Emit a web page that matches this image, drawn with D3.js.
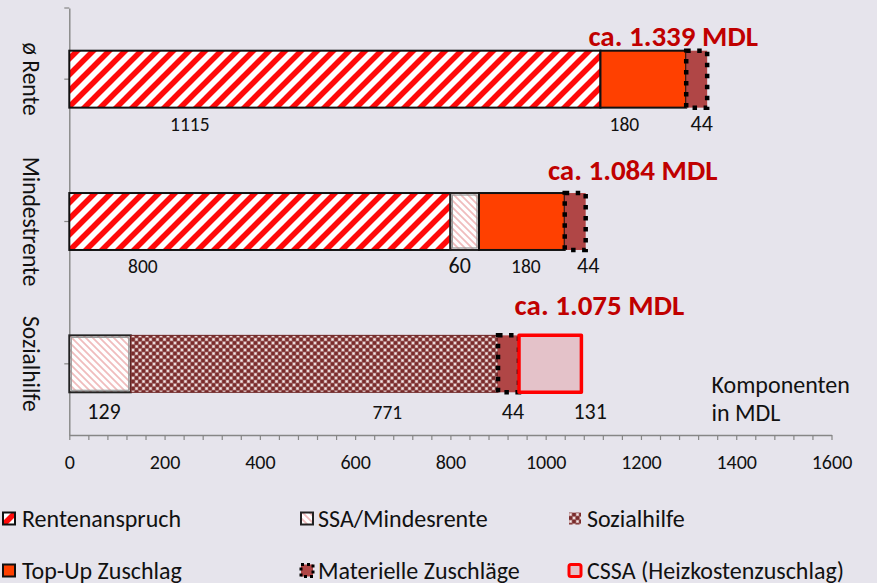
<!DOCTYPE html>
<html>
<head>
<meta charset="utf-8">
<script src="https://cdn.jsdelivr.net/npm/d3@7"></script>
<style>
  html, body { margin: 0; padding: 0; background: #E6E4EC; }
  svg { display: block; font-family: Carlito, Lato, "Open Sans", sans-serif; }
</style>
</head>
<body>
<svg id="chart" width="877" height="583"></svg>
<script>
// ---- Data -------------------------------------------------------------
const categories = ["ø Rente", "Mindestrente", "Sozialhilfe"];
const seriesNames = ["Rentenanspruch", "SSA/Mindesrente", "Sozialhilfe",
                     "Top-Up Zuschlag", "Materielle Zuschläge", "CSSA (Heizkostenzuschlag)"];
const rentenanspruch       = [1115, 800, 0];
const ssaMindesrente       = [0, 60, 129];
const sozialhilfe          = [0, 0, 771];
const topUpZuschlag        = [180, 180, 0];
const materielleZuschlaege = [44, 44, 44];
const cssaHeizkosten       = [0, 0, 131];
const xTickValues = [0, 200, 400, 600, 800, 1000, 1200, 1400, 1600];
const axisNote = ["Komponenten", "in MDL"];

// ---- Layout -------------------------------------------------------------
const W = 877, H = 583;
const plot = { left: 69.3, right: 831.5, top: 8, bottom: 435 };
// horizontal nudges (px) of the value labels, per series and category
const labelShift = [[-145, -117, 0], [0, -5, 4], [0, 0, 73], [-19, 4, 0], [5, 13, 4.5], [0, 0, 40]];
const labelSize  = [19.5, 22, 19.5, 19.5, 22, 22];
const labelDrop  = [23, 23, 27];
const totalShift = [-34, 47, 18];
const totalRise  = [-5, -13, -20];
const legendCols = [{ m: 3, t: 22 }, { m: 301, t: 318 }, { m: 569, t: 587 }];
const legendRows = [518.5, 570.5];

const valuesBySeries = [rentenanspruch, ssaMindesrente, sozialhilfe,
                        topUpZuschlag, materielleZuschlaege, cssaHeizkosten];

const table = categories.map((c, i) => {
  const row = { category: c };
  seriesNames.forEach((s, k) => row[s] = valuesBySeries[k][i]);
  return row;
});
const stacked = d3.stack().keys(seriesNames)(table);

const svg = d3.select("#chart");
svg.append("rect").attr("width", W).attr("height", H).attr("fill", "#E6E4EC");

// ---- Fill patterns --------------------------------------------------------
const defs = svg.append("defs");

const pRente = defs.append("pattern").attr("id", "pRente")
  .attr("patternUnits", "userSpaceOnUse").attr("width", 16).attr("height", 16);
pRente.append("rect").attr("width", 16).attr("height", 16).attr("fill", "#ffffff");
pRente.append("path").attr("d", "M-4,4L4,-4M0,16L16,0M12,20L20,12")
  .attr("stroke", "#ff0a0a").attr("stroke-width", 5.6);

const pSsa = defs.append("pattern").attr("id", "pSsa")
  .attr("patternUnits", "userSpaceOnUse").attr("width", 7).attr("height", 7);
pSsa.append("rect").attr("width", 7).attr("height", 7).attr("fill", "#ffffff");
pSsa.append("path").attr("d", "M0,0L7,7M-1,6L1,8M6,-1L8,1")
  .attr("stroke", "#f0bcbd").attr("stroke-width", 1.8);

const pSoz = defs.append("pattern").attr("id", "pSoz")
  .attr("patternUnits", "userSpaceOnUse").attr("width", 7).attr("height", 7);
pSoz.append("rect").attr("width", 7).attr("height", 7).attr("fill", "#7a2c2c");
[[0, 0], [7, 0], [0, 7], [7, 7], [3.5, 3.5]].forEach(([cx, cy]) => {
  pSoz.append("rect").attr("x", cx - 1.7).attr("y", cy - 1.7)
    .attr("width", 3.4).attr("height", 3.4).attr("fill", "#c29595");
  pSoz.append("rect").attr("x", cx - 0.9).attr("y", cy - 0.9)
    .attr("width", 1.8).attr("height", 1.8).attr("fill", "#f6eded");
});

const styles = [
  { fill: "url(#pRente)", stroke: "#111", sw: 2 },
  { fill: "url(#pSsa)",   stroke: "#222", sw: 2, inner: "#9a9a9a" },
  { fill: "url(#pSoz)",   stroke: "#6a2020", sw: 1 },
  { fill: "#ff4000",      stroke: "#111", sw: 2 },
  { fill: "#b04646",      stroke: "#000", sw: 4.5, dash: "4.5,6.5" },
  { fill: "#e4c2c9",      stroke: "#ff0000", sw: 3.5 }
];

// ---- Scales ---------------------------------------------------------------
const x = d3.scaleLinear().domain([0, 1600]).range([plot.left, plot.right]);
const y = d3.scaleBand().domain(categories).range([plot.top, plot.bottom])
  .paddingInner(0.6).paddingOuter(0.3);

// ---- Axes -----------------------------------------------------------------
const axisColor = "#868686";
const xAxis = svg.append("g").attr("transform", `translate(0,${plot.bottom})`)
  .call(d3.axisBottom(x).tickValues(d3.range(0, 1601, 40))
    .tickFormat(d => xTickValues.includes(d) ? d : "")
    .tickSize(5).tickSizeOuter(0).tickPadding(15));
xAxis.select(".domain").attr("stroke", axisColor).attr("stroke-width", 1.4);
xAxis.selectAll(".tick line").attr("stroke", axisColor).attr("stroke-width", 1.2);
xAxis.selectAll(".tick text").attr("fill", "#111").style("font-size", "20px")
  .style("font-family", "Carlito, Lato, sans-serif");

const yAxis = svg.append("g").attr("transform", `translate(${plot.left},0)`)
  .call(d3.axisLeft(y).tickSize(5).tickSizeOuter(0).tickFormat(""));
yAxis.select(".domain").attr("stroke", axisColor).attr("stroke-width", 1.4);
yAxis.selectAll(".tick line").attr("stroke", axisColor).attr("stroke-width", 1.2);
yAxis.append("line").attr("x1", -5).attr("x2", 0)
  .attr("y1", plot.top).attr("y2", plot.top)
  .attr("stroke", axisColor).attr("stroke-width", 1.2);

// category labels, reading top to bottom
svg.append("g").selectAll("text").data(categories).join("text")
  .attr("transform", d => `translate(31,${y(d) + y.bandwidth() / 2}) rotate(90)`)
  .attr("text-anchor", "middle").attr("dominant-baseline", "central")
  .attr("fill", "#111").style("font-size", "23.5px")
  .text(d => d);

// ---- Bars -----------------------------------------------------------------
const bars = svg.append("g");
stacked.forEach((layer, k) => {
  const st = styles[k];
  const g = bars.append("g");
  const segs = layer.map((d, i) => ({ x0: d[0], x1: d[1], cat: categories[i], v: d[1] - d[0] }))
    .filter(d => d.v > 0);
  g.selectAll("rect.seg").data(segs).join("rect").attr("class", "seg")
    .attr("x", d => x(d.x0)).attr("y", d => y(d.cat))
    .attr("width", d => x(d.x1) - x(d.x0)).attr("height", y.bandwidth())
    .attr("fill", st.fill).attr("stroke", st.stroke).attr("stroke-width", st.sw)
    .attr("stroke-dasharray", st.dash || null)
    .attr("stroke-linejoin", k === 5 ? "round" : "miter");
  if (st.inner) {
    g.selectAll("rect.inner").data(segs).join("rect").attr("class", "inner")
      .attr("x", d => x(d.x0) + 2).attr("y", d => y(d.cat) + 2)
      .attr("width", d => x(d.x1) - x(d.x0) - 4).attr("height", y.bandwidth() - 4)
      .attr("fill", "none").attr("stroke", st.inner).attr("stroke-width", 1.2);
  }
});

// value labels under each segment
const labels = svg.append("g").attr("fill", "#111");
stacked.forEach((layer, k) => {
  layer.forEach((d, i) => {
    const v = d[1] - d[0];
    if (v <= 0) return;
    labels.append("text")
      .attr("x", x((d[0] + d[1]) / 2) + labelShift[k][i])
      .attr("y", y(categories[i]) + y.bandwidth() + labelDrop[i])
      .attr("text-anchor", "middle")
      .style("font-size", labelSize[k] + "px")
      .text(v);
  });
});

// totals above each bar
const deFormat = d3.formatLocale({ decimal: ",", thousands: ".", grouping: [3], currency: ["", ""] }).format(",d");
svg.append("g").selectAll("text").data(categories).join("text")
  .attr("x", (c, i) => x(d3.sum(valuesBySeries, s => s[i])) + totalShift[i])
  .attr("y", (c, i) => y(c) + totalRise[i])
  .attr("text-anchor", "middle").attr("fill", "#c00000")
  .style("font-size", "29px").style("font-weight", "bold")
  .text((c, i) => `ca. ${deFormat(d3.sum(valuesBySeries, s => s[i]))} MDL`);

// unit note
svg.append("text").attr("x", 711.5).attr("y", 393).attr("fill", "#111")
  .style("font-size", "24px")
  .selectAll("tspan").data(axisNote).join("tspan")
  .attr("x", 711.5).attr("dy", (d, i) => i ? 28 : 0).text(d => d);

// ---- Legend ---------------------------------------------------------------
const legend = svg.append("g");
seriesNames.forEach((name, k) => {
  const col = legendCols[k % 3], cy = legendRows[Math.floor(k / 3)];
  const st = styles[k];
  const size = 12;
  legend.append("rect").attr("x", col.m).attr("y", cy - size / 2)
    .attr("width", size).attr("height", size)
    .attr("fill", st.fill).attr("stroke", k === 2 ? "none" : st.stroke)
    .attr("stroke-width", Math.min(st.sw, 3))
    .attr("stroke-dasharray", st.dash ? "3,3" : null)
    .attr("rx", k === 5 ? 2 : 0);
  legend.append("text").attr("x", col.t).attr("y", cy + 8)
    .attr("fill", "#111").style("font-size", "24px").text(name);
});
</script>
</body>
</html>
